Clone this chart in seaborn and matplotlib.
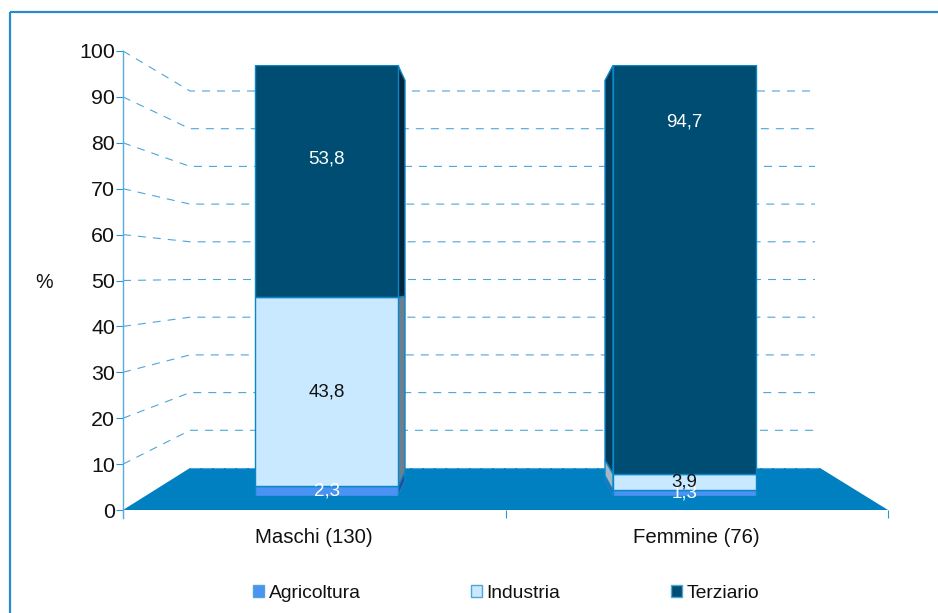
import matplotlib
matplotlib.use("Agg")
import matplotlib.pyplot as plt
from matplotlib.patches import Patch, Polygon
import numpy as np
import seaborn as sns

# Survey data: share of workers by sector (%), per gender
categories = ["Maschi (130)", "Femmine (76)"]
agricoltura = [2.3, 1.3]
industria = [43.8, 3.9]
terziario = [53.8, 94.7]
y_ticks = list(range(0, 101, 10))

# Heights (in %) at which the Terziario labels sit
terziario_label_heights = [78.2, 86.8]

W, H = 938, 613
BLUE_LINE = "#2f93d0"
AXIS_LINE = "#5aaade"
GRID_LINE = "#4ea5da"
FLOOR = "#0080c0"
BAR_EDGE = "#0b86c6"
COLORS = {"Agricoltura": "#4a93f2", "Industria": "#c8e9ff", "Terziario": "#004d73"}
SIDE_COLORS = [
    {"Agricoltura": "#2a4a9c", "Industria": "#6b7f8e", "Terziario": "#02263c"},
    {"Agricoltura": "#3a62b8", "Industria": "#a3b8c6", "Terziario": "#033a5a"},
]

# Pixel geometry of the pseudo 3D box
AX_L, AX_R, AX_T, AX_B = 123, 888, 51, 510
BACK_L, BACK_R, BACK_T, BACK_B = 190, 820, 91, 468
GRID_END = 815
BAR_T, BAR_B = 65, 496
SIDE_T, SIDE_B = 80, 481
BAR_CENTERS = [326.5, 684.5]
BAR_W = 143
SIDE_X = [(398, 405), (613, 605)]

sns.set_theme(style="white")
plt.rcParams["font.family"] = ["Liberation Sans", "DejaVu Sans"]
plt.rcParams["text.color"] = "#111111"


def px_axes(fig, left, right, top, bottom, **kw):
    return fig.add_axes(
        [left / W, 1 - bottom / H, (right - left) / W, (bottom - top) / H], **kw
    )


fig = plt.figure(figsize=(W / 100, H / 100), dpi=100, facecolor="white")

# Scenery layer in pixel coordinates: frame, wall lines, floor, bar sides
deco = fig.add_axes([0, 0, 1, 1], zorder=1)
deco.set_xlim(0, W)
deco.set_ylim(H, 0)
deco.axis("off")

deco.plot([10, 10], [12, H], color="#2a8bcb", lw=1.6, solid_capstyle="butt")
deco.plot([10, W], [12, 12], color="#2a8bcb", lw=1.6, solid_capstyle="butt")


def front_y(v):
    return AX_B - (AX_B - AX_T) * v / 100


def back_y(v):
    return BACK_B - (BACK_B - BACK_T) * v / 100


for t in y_ticks[1:]:
    deco.plot(
        [AX_L, BACK_L, GRID_END],
        [front_y(t), back_y(t), back_y(t)],
        color=GRID_LINE,
        lw=0.8,
        ls=(0, (7.2, 6.3)),
        zorder=1,
    )

deco.add_patch(
    Polygon(
        [(AX_L, AX_B), (BACK_L, BACK_B), (BACK_R, BACK_B), (AX_R, AX_B)],
        closed=True,
        facecolor=FLOOR,
        edgecolor="none",
        zorder=2,
    )
)
deco.plot([BACK_L, BACK_R], [BACK_B, BACK_B], color=GRID_LINE, lw=0.8,
          ls=(0, (9, 1.5)), zorder=2.5)

series = {"Agricoltura": agricoltura, "Industria": industria, "Terziario": terziario}


def bar_front(v):
    return BAR_B - (BAR_B - BAR_T) * v / 100


def bar_back(v):
    return SIDE_B - (SIDE_B - SIDE_T) * v / 100


# Receding side faces of the stacked bars
for i, (x_front, x_back) in enumerate(SIDE_X):
    base = 0.0
    for name, values in series.items():
        top = base + values[i]
        deco.add_patch(
            Polygon(
                [
                    (x_front, bar_front(base)),
                    (x_back, bar_back(base)),
                    (x_back, bar_back(top)),
                    (x_front, bar_front(top)),
                ],
                closed=True,
                facecolor=SIDE_COLORS[i][name],
                edgecolor=BAR_EDGE,
                linewidth=1.0,
                zorder=3,
            )
        )
        base = top

# Percent axis and category ticks along the front edge of the floor
main = px_axes(fig, AX_L, AX_R, AX_T, AX_B, zorder=2)
main.patch.set_alpha(0)
main.set_ylim(0, 100)
main.set_xlim(0, 2)
main.set_yticks(y_ticks)
main.set_xticks([0, 1, 2])
main.set_xticklabels([])
main.set_xticks([0.5, 1.5], minor=True)
main.set_xticklabels(categories, minor=True)
main.tick_params(axis="y", which="major", length=5, width=0.8, color=BLUE_LINE,
                 labelsize=15.4, pad=0.5, left=True, labelcolor="#111111")
main.tick_params(axis="x", which="major", length=5.8, width=0.8, color=BLUE_LINE,
                 bottom=True)
main.tick_params(axis="x", which="minor", length=0, labelsize=14.7, pad=13,
                 labelcolor="#111111")
for side in ("top", "right", "bottom"):
    main.spines[side].set_visible(False)
main.spines["left"].set_color(AXIS_LINE)
main.spines["left"].set_linewidth(1.0)
main.spines["left"].set_bounds(-1.75, 100)
main.spines["left"].set_clip_on(False)
main.grid(False)
main.set_ylabel("%", rotation=0, fontsize=14.2, color="#111111",
                ha="center", va="center")
main.yaxis.set_label_coords((44 - AX_L) / (AX_R - AX_L),
                            (AX_B - 283) / (AX_B - AX_T))

# Front faces: stacked seaborn bars on a percent scale
bars = px_axes(fig, AX_L, AX_R, BAR_T, BAR_B, zorder=3)
bottoms = np.zeros(len(categories))
for name, values in series.items():
    sns.barplot(
        x=categories,
        y=values,
        bottom=bottoms,
        color=COLORS[name],
        saturation=1,
        width=BAR_W / (BAR_CENTERS[1] - BAR_CENTERS[0]),
        edgecolor=BAR_EDGE,
        linewidth=1.0,
        ax=bars,
    )
    bottoms = bottoms + np.array(values)

span = BAR_CENTERS[1] - BAR_CENTERS[0]
bars.set_xlim((AX_L - BAR_CENTERS[0]) / span, (AX_R - BAR_CENTERS[0]) / span)
bars.set_ylim(0, 100)
bars.axis("off")

# Value labels, with Italian decimal commas
label_colors = {"Agricoltura": "white", "Industria": "#111111", "Terziario": "white"}
base = np.zeros(len(categories))
for name, values in series.items():
    for i, v in enumerate(values):
        y = base[i] + v / 2
        if name == "Terziario":
            y = terziario_label_heights[i]
        bars.text(i, y, f"{v:.1f}".replace(".", ","), ha="center", va="center",
                  fontsize=13.5, color=label_colors[name], zorder=6, clip_on=False)
    base = base + np.array(values)

handles = [
    Patch(facecolor=COLORS[n], edgecolor=GRID_LINE, linewidth=1.0, label=n)
    for n in series
]
fig.legend(
    handles=handles,
    ncol=3,
    loc="center",
    bbox_to_anchor=(506 / W, 1 - 593 / H),
    frameon=False,
    fontsize=13.9,
    handlelength=0.6,
    handleheight=0.6,
    handletextpad=0.22,
    columnspacing=5.72,
    labelcolor="#111111",
)

fig.savefig("out.png", dpi=100, facecolor="white")
